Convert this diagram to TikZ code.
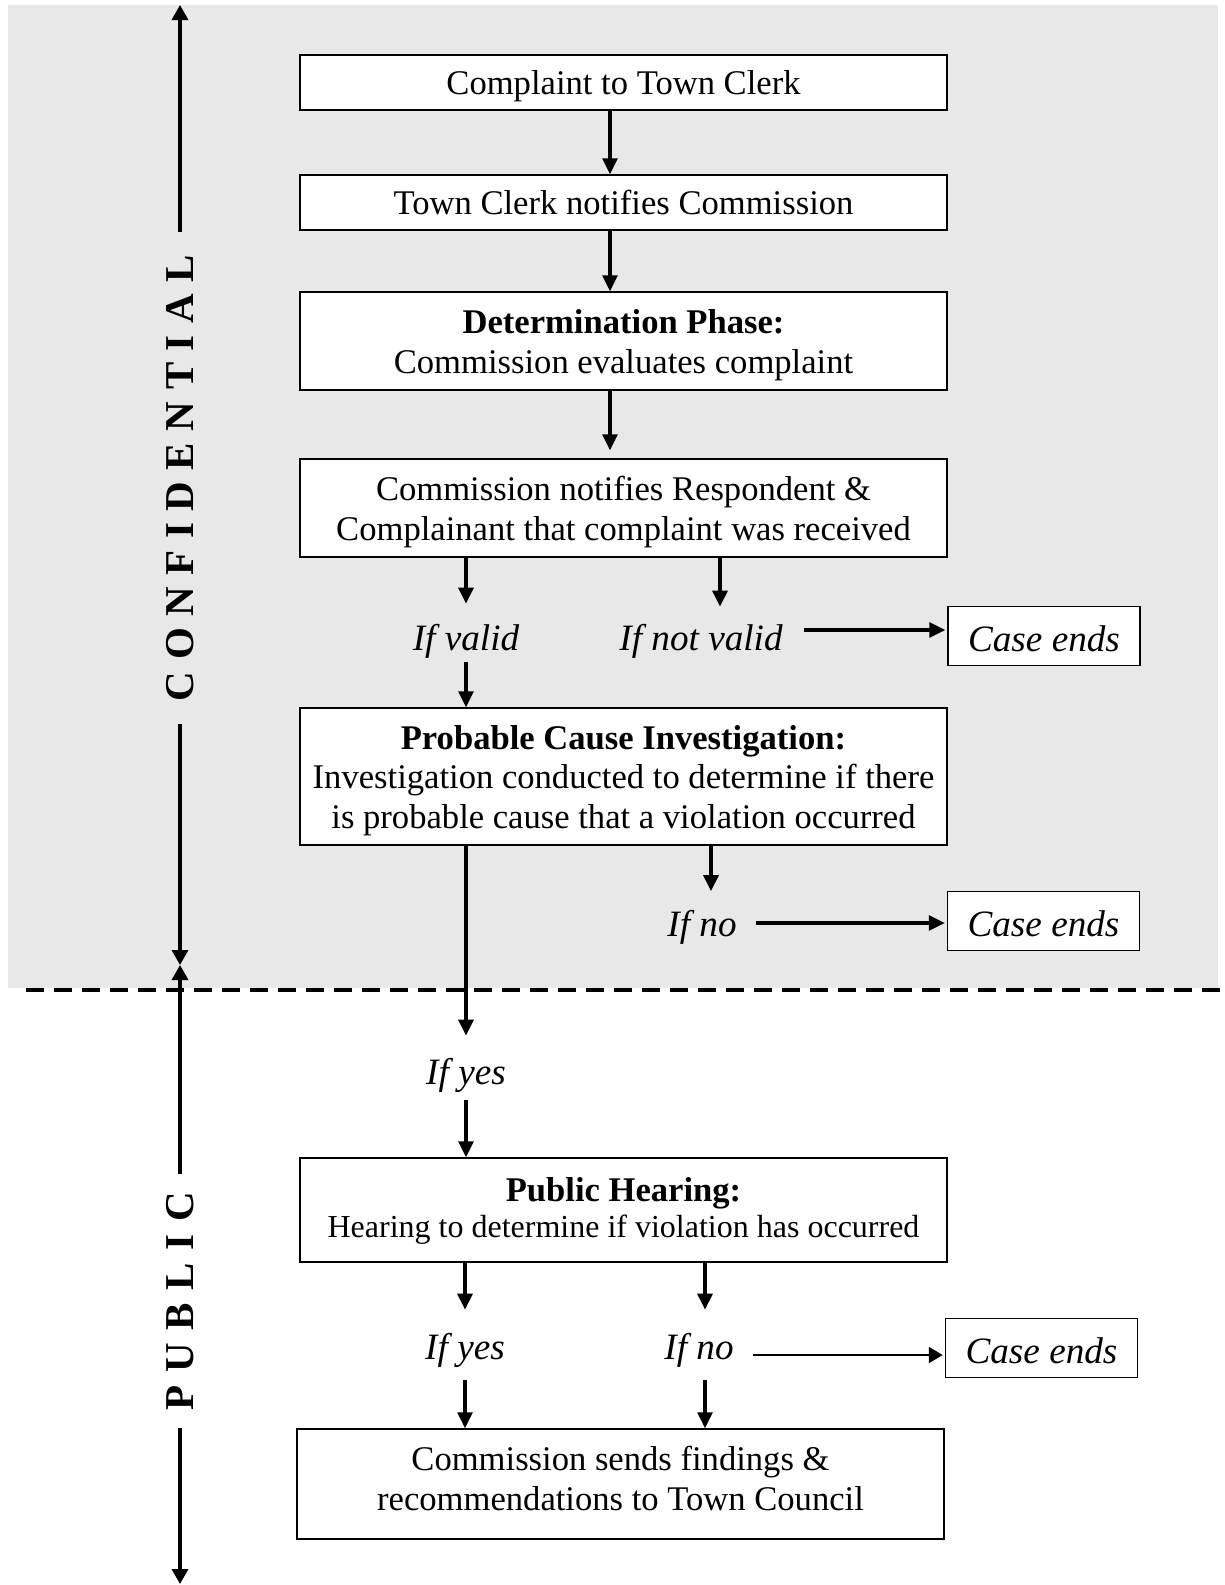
\documentclass[tikz,border=0pt]{standalone}
\usepackage{fontspec}
\setmainfont{Liberation Serif}
\usetikzlibrary{arrows.meta,calc}
\definecolor{confgray}{RGB}{232,232,232}
\newcommand{\upstrut}[1]{\rule{0pt}{#1}}
\newcommand{\downstrut}[1]{\rule[-#1]{0pt}{#1}}
\tikzset{
 box/.style={draw, line width=0.75pt, fill=white, align=center, inner sep=0pt, minimum width=323.5pt, font=\fontsize{17.3}{19.8}\selectfont},
 endbox/.style={draw, line width=0.75pt, fill=white, inner sep=0pt, minimum width=96pt, minimum height=29.5pt, text height=15.2pt, text depth=0.2pt, font=\fontsize{18.6}{21}\selectfont\itshape},
 lbl/.style={inner sep=0pt, text height=13pt, text depth=4pt, anchor=base, font=\fontsize{18.6}{21}\selectfont\itshape},
 arr/.style={line width=1.6pt, -{Triangle[length=8pt,width=7.5pt]}},
 thinarr/.style={line width=1.1pt, -{Triangle[length=7pt,width=8pt]}},
 axarr/.style={line width=1.6pt, -{Triangle[length=7.5pt,width=8pt]}},
 side/.style={rotate=90, inner ysep=0pt, font=\fontsize{20.5}{24}\selectfont\bfseries},
 divider/.style={line width=2.2pt, dash pattern=on 9pt off 5pt},
}
\begin{document}
\begin{tikzpicture}[x=0.5pt,y=-0.5pt]
\useasboundingbox (0,0) rectangle (1225,1585);
\fill[confgray] (8,5) rectangle (1218,988);
\coordinate (dl) at (26,990);
\coordinate (dr) at (1225,990);
\draw[divider] (dl) -- (dr);

% boxes
\node[box, minimum height=27.5pt] (b1) at (623.5,82.5) {\upstrut{16pt}Complaint to Town Clerk\downstrut{3.75pt}};
\node[box, minimum height=27.5pt] (b2) at (623.5,202.5) {\upstrut{16pt}Town Clerk notifies Commission\downstrut{3.75pt}};
\node[box, minimum height=49pt] (b3) at (623.5,341) {\upstrut{16pt}\textbf{Determination Phase:}\\Commission evaluates complaint\downstrut{3.75pt}};
\node[box, minimum height=49pt] (b4) at (623.5,508) {\upstrut{16pt}Commission notifies Respondent \&\\Complainant that complaint was received\downstrut{3.75pt}};
\node[box, minimum height=68.5pt] (b5) at (623.5,776.5) {\upstrut{16pt}\textbf{Probable Cause Investigation:}\\Investigation conducted to determine if there\\is probable cause that a violation occurred\downstrut{3.75pt}};
\node[box, minimum height=52pt] (b6) at (623.5,1210) {\upstrut{13.25pt}\textbf{Public Hearing:}\\[-1.8pt]{\fontsize{16}{18}\selectfont Hearing to determine if violation has occurred}\downstrut{3.75pt}};
\node[box, minimum height=55pt] (b7) at (620.5,1484) {\upstrut{12.5pt}Commission sends findings \&\\recommendations to Town Council\downstrut{6.25pt}};

\node[endbox] (c1) at (1044,636) {Case ends};
\node[endbox] (c2) at (1043.5,921) {Case ends};
\node[endbox] (c3) at (1041.5,1348) {Case ends};

% labels
\node[lbl] (valid) at (466,650.5) {If valid};
\node[lbl] (notvalid) at (701,650.5) {If not valid};
\node[lbl] (pcno) at (702,936.5) {If no};
\node[lbl] (pcyes) at (466,1084.5) {If yes};
\node[lbl] (phyes) at (465,1359.5) {If yes};
\node[lbl] (phno) at (699,1359.5) {If no};

% flow arrows
\draw[arr] ($(b1.south)+(-13.5,0)$) -- ($(b2.north)+(-13.5,0)$);
\draw[arr] ($(b2.south)+(-13.5,0)$) -- ($(b3.north)+(-13.5,0)$);
\draw[arr, shorten >=4pt] ($(b3.south)+(-13.5,0)$) -- ($(b4.north)+(-13.5,0)$);

\draw[arr, shorten >=10.25pt] (b4.south -| valid.north) -- (valid.north);
\draw[arr, shorten <=1.75pt] (valid.south) -- (valid.south |- b5.north);
\draw[arr, shorten >=8.75pt] ($(notvalid.north |- b4.south)+(19,0)$) -- ($(notvalid.north)+(19,0)$);
\draw[arr] ($(notvalid.east)+(21,-11.5)$) -- ($(notvalid.east -| c1.west)+(-2,-11.5)$);

\draw[arr, shorten >=9.5pt] ($(pcno.north |- b5.south)+(9,0)$) -- ($(pcno.north)+(9,0)$);
\draw[arr] ($(pcno.east)+(19,-4.5)$) -- ($(pcno.east -| c2.west)+(-2,-4.5)$);
\draw[arr, shorten >=11.25pt] (b5.south -| pcyes.north) -- (pcyes.north);
\draw[arr, shorten <=3.75pt] (pcyes.south) -- (pcyes.south |- b6.north);

\draw[arr, shorten >=11.75pt] (b6.south -| phyes.north) -- (phyes.north);
\draw[arr, shorten >=11.75pt] ($(phno.north |- b6.south)+(6,0)$) -- ($(phno.north)+(6,0)$);
\draw[arr, shorten <=6.25pt] (phyes.south) -- (phyes.south |- b7.north);
\draw[arr, shorten <=6.25pt] ($(phno.south)+(6,0)$) -- ($(phno.south |- b7.north)+(6,0)$);
\draw[thinarr] ($(phno.east)+(19,4.5)$) -- ($(phno.east -| c3.west)+(-2,4.5)$);

% side axis
\coordinate (atop) at (180,5);
\coordinate (amid) at (180,965);
\coordinate (abot) at (180,1584);
\node[side, inner xsep=11.5pt] (conf) at (180,478) {\makebox[223pt][s]{C\hfill O\hfill N\hfill F\hfill I\hfill D\hfill E\hfill N\hfill T\hfill I\hfill A\hfill L}};
\node[side, inner xsep=9pt] (pub) at (180,1301) {\makebox[109pt][s]{P\hfill U\hfill B\hfill L\hfill I\hfill C}};
\draw[axarr] (conf.east) -- (atop);
\draw[axarr] (conf.west) -- (amid);
\draw[axarr] (pub.east) -- (amid);
\draw[axarr] (pub.west) -- (abot);
\end{tikzpicture}
\end{document}
